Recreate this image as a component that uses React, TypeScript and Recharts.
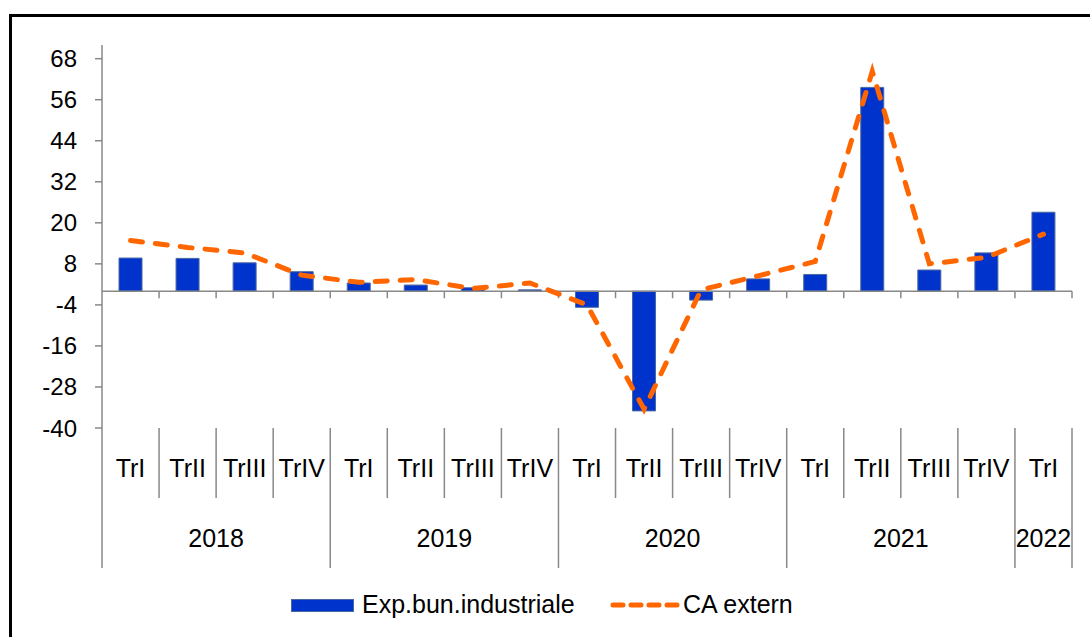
import React from 'react'
import {
  ComposedChart, Bar, Line, XAxis, YAxis, ReferenceLine,
} from 'recharts'

// quarters and years as on the reference
const quarters = [
  'TrI', 'TrII', 'TrIII', 'TrIV',
  'TrI', 'TrII', 'TrIII', 'TrIV',
  'TrI', 'TrII', 'TrIII', 'TrIV',
  'TrI', 'TrII', 'TrIII', 'TrIV',
  'TrI',
]
const years = [
  { label: '2018', start: 0, count: 4 },
  { label: '2019', start: 4, count: 4 },
  { label: '2020', start: 8, count: 4 },
  { label: '2021', start: 12, count: 4 },
  { label: '2022', start: 16, count: 1 },
]
const expBunIndustriale = [9.7, 9.6, 8.3, 5.7, 2.4, 1.8, 1.0, 0.4, -4.7, -35, -2.6, 3.6, 4.9, 59.6, 6.2, 11.2, 23.1]
const caExtern = [14.8, 12.8, 11.2, 4.7, 2.6, 3.4, 0.8, 2.4, -4.0, -34.5, 0.4, 4.5, 8.7, 64.3, 8.0, 9.9, 16.7]
const yTicks = [-40, -28, -16, -4, 8, 20, 32, 44, 56, 68]

const data = quarters.map((q, i) => ({
  id: `${i}-${q}`,
  exp: expBunIndustriale[i],
  ca: caExtern[i],
}))

const W = 1090
const H = 637
const PLOT_LEFT = 102
const PLOT_RIGHT = 1072
const PLOT_TOP = 45
const PLOT_BOTTOM = 428
const XAXIS_H = 150
const BAND = (PLOT_RIGHT - PLOT_LEFT) / quarters.length
const FONT = '"Liberation Sans", Arial, sans-serif'
const AXIS = '#888888'
const BLUE = '#0033CC'
const ORANGE = '#FF6600'

function CategoryTick(props: any) {
  const { x, payload } = props
  const i = payload.index
  const left = x - BAND / 2
  const yr = years.find(y => y.start === i)
  const isLast = i === quarters.length - 1
  return (
    <g>
      <text x={x} y={477} textAnchor="middle" fontSize={25} fontFamily={FONT} fill="#000">
        {quarters[i]}
      </text>
      {i > 0 && (
        <line x1={left} x2={left} y1={PLOT_BOTTOM} y2={yr ? 568 : 498} stroke={AXIS} strokeWidth={1.5} />
      )}
      {i === 0 && (
        <line x1={left} x2={left} y1={PLOT_BOTTOM} y2={568} stroke={AXIS} strokeWidth={1.5} />
      )}
      {isLast && (
        <line x1={left + BAND} x2={left + BAND} y1={PLOT_BOTTOM} y2={568} stroke={AXIS} strokeWidth={1.5} />
      )}
      {yr && (
        <text x={left + (BAND * yr.count) / 2} y={547} textAnchor="middle" fontSize={25} fontFamily={FONT} fill="#000">
          {yr.label}
        </text>
      )}
    </g>
  )
}

// small tick marks hanging under the zero line
function ZeroTicks(props: any) {
  const vb = props.viewBox || {}
  const y0 = vb.y ?? 290
  const x0 = vb.x ?? PLOT_LEFT
  const w = vb.width ?? PLOT_RIGHT - PLOT_LEFT
  const step = w / quarters.length
  return (
    <g>
      {quarters.map((_, i) => (
        <line key={i} x1={x0 + step * (i + 1)} x2={x0 + step * (i + 1)} y1={y0} y2={y0 + 7} stroke={AXIS} strokeWidth={1.5} />
      ))}
    </g>
  )
}

export default function App() {
  return (
    <div style={{ position: 'absolute', left: 0, top: 0, width: W, height: H, overflow: 'hidden', background: '#fff', fontFamily: FONT }}>
      <div style={{ position: 'absolute', left: 9, top: 14, width: 1100, height: 700, border: '3px solid #000', boxSizing: 'border-box' }} />
      <div style={{ position: 'absolute', left: 0, top: 0 }}>
        <ComposedChart
          width={W}
          height={H}
          data={data}
          margin={{ top: PLOT_TOP, right: W - PLOT_RIGHT, bottom: H - PLOT_BOTTOM - XAXIS_H, left: 0 }}
        >
          <XAxis
            dataKey="id"
            height={XAXIS_H}
            axisLine={false}
            tickLine={false}
            interval={0}
            tick={<CategoryTick />}
          />
          <YAxis
            width={PLOT_LEFT}
            domain={[-40, 72]}
            ticks={yTicks}
            allowDataOverflow
            stroke={AXIS}
            strokeWidth={1.5}
            tickSize={7}
            tickMargin={18}
            tick={{ fill: '#000', fontSize: 24, fontFamily: FONT }}
          />
          <Bar dataKey="exp" fill={BLUE} stroke="#4A68A0" strokeWidth={1} barSize={23} isAnimationActive={false} />
          <ReferenceLine y={0} stroke={AXIS} strokeWidth={1.5} label={<ZeroTicks />} />
          <Line
            type="linear"
            dataKey="ca"
            stroke={ORANGE}
            strokeWidth={5}
            strokeDasharray="12 13"
            strokeLinecap="round"
            dot={false}
            activeDot={false}
            isAnimationActive={false}
          />
        </ComposedChart>
      </div>
      {/* legend */}
      <div style={{ position: 'absolute', left: 291, top: 599, width: 63, height: 13, background: BLUE, border: '1px solid #4A68A0', boxSizing: 'border-box' }} />
      <div style={{ position: 'absolute', left: 362, top: 590, fontSize: 25, lineHeight: '29px', color: '#000' }}>Exp.bun.industriale</div>
      <svg style={{ position: 'absolute', left: 608, top: 598 }} width={74} height={14}>
        <line x1={5} x2={70} y1={7} y2={7} stroke={ORANGE} strokeWidth={5} strokeDasharray="10 8" strokeLinecap="round" />
      </svg>
      <div style={{ position: 'absolute', left: 683, top: 590, fontSize: 25, lineHeight: '29px', color: '#000' }}>CA extern</div>
    </div>
  )
}
